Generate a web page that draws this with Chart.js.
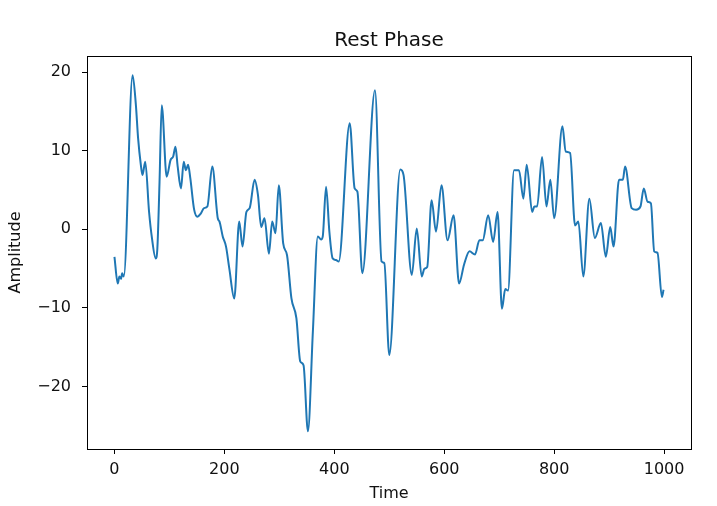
<!DOCTYPE html>
<html>
<head>
<meta charset="utf-8">
<script src="https://cdn.jsdelivr.net/npm/chart.js@4"></script>
<style>
  html, body { margin: 0; padding: 0; background: #fff; }
</style>
</head>
<body>
<canvas id="chart" width="717" height="506"></canvas>
<script>
// DATA
const chartTitle = "Rest Phase";
const xLabel = "Time";
const yLabel = "Amplitude";

const times = [
  0, 6, 9, 12, 14, 17, 33, 39, 43, 48, 51, 56, 63, 68, 75, 78, 82, 86, 95, 102,
  107, 111, 115, 121, 126, 130, 134, 138, 145, 151, 157, 163, 169, 178, 188, 191, 197, 203, 209, 218,
  227, 233, 240, 246, 255, 261, 267, 273, 281, 287, 293, 299, 307, 314, 322, 331, 338, 344, 352, 361,
  370, 376, 379, 385, 391, 397, 403, 408, 428, 437, 442, 451, 474, 486, 491, 500, 520, 526, 541, 550,
  559, 564, 569, 577, 585, 595, 606, 617, 627, 636, 646, 656, 664, 670, 680, 689, 697, 705, 711, 716,
  727, 736, 744, 750, 760, 764, 769, 778, 786, 793, 800, 815, 821, 829, 838, 844, 853, 864, 874, 885,
  894, 902, 908, 918, 925, 929, 941, 949, 957, 963, 970, 976, 982, 988, 996, 999
];
const amps = [
  -3.5, -6.9, -6.0, -6.3, -5.6, -6.0, 19.6, 15.8, 11.6, 8.2, 6.9, 8.6, 2.2, -1.0, -3.7, -2.5, 6.0, 15.8, 6.7, 8.8,
  9.3, 10.5, 8.0, 5.2, 8.6, 7.5, 8.2, 6.5, 2.5, 1.6, 2.0, 2.7, 2.9, 8.0, 1.4, 1.0, -0.9, -2.2, -5.0, -8.8,
  1.0, -2.2, 2.2, 2.7, 6.3, 4.4, 0.3, 1.4, -3.1, 1.0, -0.5, 5.6, -1.8, -3.3, -8.8, -11.3, -16.8, -17.3, -25.7, -13.0,
  -0.9, -1.3, -0.9, 5.4, -0.3, -3.7, -3.9, -4.1, 13.5, 5.2, 4.8, -5.6, 17.7, -4.1, -4.3, -16.0, 7.6, 6.9, -5.8, 0.1,
  -6.0, -5.0, -4.8, 3.7, -0.3, 5.6, -1.4, 1.8, -6.9, -4.5, -2.8, -3.2, -1.4, -1.4, 1.8, -1.6, 2.2, -10.1, -7.6, -7.8,
  7.5, 7.5, 3.9, 8.2, 2.2, 2.9, 2.9, 9.2, 2.9, 6.3, 1.4, 13.1, 9.9, 9.7, 0.5, 1.0, -6.0, 3.9, -1.1, 0.8,
  -3.5, 0.3, -2.2, 6.3, 6.3, 8.0, 2.7, 2.5, 2.9, 5.2, 3.5, 3.3, -2.8, -3.0, -8.6, -7.7
];

const xTicks = [0, 200, 400, 600, 800, 1000];
const yTicks = [-20, -10, 0, 10, 20];

Chart.defaults.font.family = '"DejaVu Sans", sans-serif';
Chart.defaults.font.size = 16;
Chart.defaults.color = "#111";

// frame on all four sides + title centred over the plot
const frame = {
  id: "frame",
  afterDraw(chart) {
    const { ctx, chartArea: a } = chart;
    ctx.save();
    ctx.strokeStyle = "#000";
    ctx.lineWidth = 1;
    ctx.strokeRect(a.left + 0.5, a.top + 0.5, a.right - a.left, a.bottom - a.top);
    ctx.fillStyle = "#111";
    ctx.font = '20px "DejaVu Sans", sans-serif';
    ctx.textAlign = "center";
    ctx.textBaseline = "alphabetic";
    ctx.fillText(chartTitle, (a.left + a.right) / 2, 46);
    ctx.restore();
  }
};

const minus = v => String(v).replace("-", "\u2212");

new Chart(document.getElementById("chart").getContext("2d"), {
  type: "line",
  data: {
    datasets: [{
      data: times.map((t, i) => ({ x: t, y: amps[i] })),
      borderColor: "#1f77b4",
      borderWidth: 2,
      pointRadius: 0,
      fill: false,
      cubicInterpolationMode: "monotone"
    }]
  },
  options: {
    responsive: false,
    animation: false,
    layout: { padding: { left: 0, right: 26, top: 56, bottom: 0 } },
    plugins: { legend: { display: false }, tooltip: { enabled: false } },
    scales: {
      x: {
        type: "linear",
        min: -49.95,
        max: 1048.95,
        afterBuildTicks: s => { s.ticks = xTicks.map(v => ({ value: v })); },
        afterFit: s => { s.height = 57; },
        grid: { drawOnChartArea: false, drawTicks: true, tickLength: 5, color: "#000" },
        border: { display: true, color: "#000" },
        ticks: { padding: 6, maxRotation: 0, callback: minus },
        title: { display: true, text: xLabel, padding: { top: 0, bottom: 3 } }
      },
      y: {
        min: -27.95,
        max: 22.05,
        afterBuildTicks: s => { s.ticks = yTicks.map(v => ({ value: v })); },
        afterFit: s => { s.width = 87; },
        grid: { drawOnChartArea: false, drawTicks: true, tickLength: 5, color: "#000" },
        border: { display: true, color: "#000" },
        ticks: { padding: 11, callback: minus },
        title: { display: true, text: yLabel, padding: { top: 6, bottom: 0 } }
      }
    }
  },
  plugins: [frame]
});
</script>
</body>
</html>
